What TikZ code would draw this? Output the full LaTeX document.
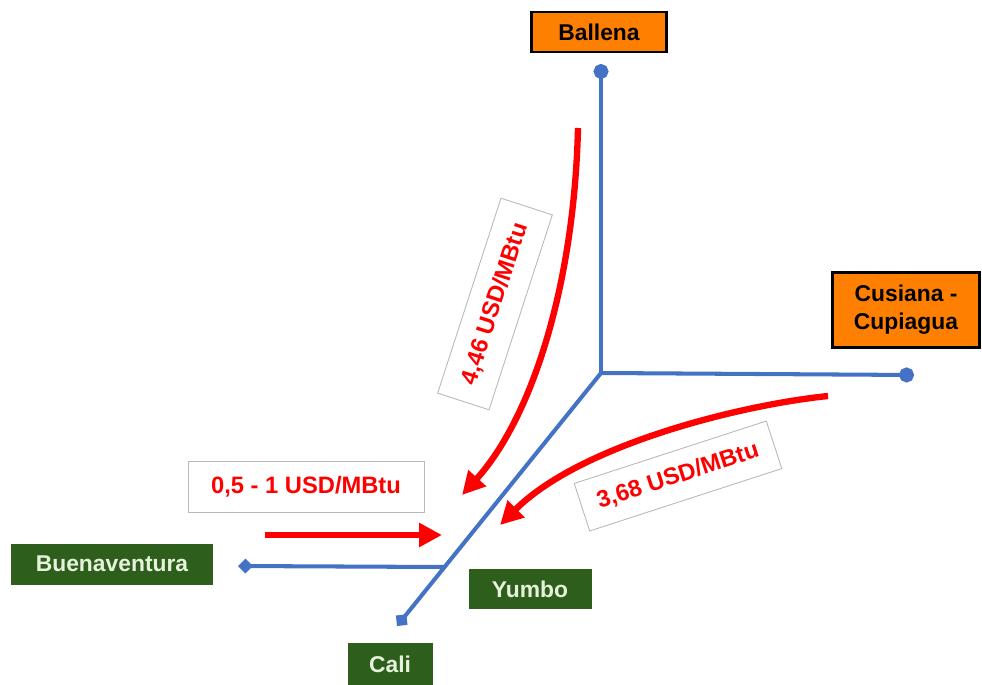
\documentclass[tikz,border=0pt]{standalone}
\usepackage{fontspec}
\setmainfont{Liberation Sans}
\usetikzlibrary{arrows.meta}
\definecolor{pipeblue}{HTML}{4472C4}
\definecolor{fieldorange}{HTML}{FF8000}
\definecolor{citygreen}{HTML}{2E5E1C}
\definecolor{citytext}{HTML}{E6F2DC}
\definecolor{pricered}{HTML}{FF0000}
\tikzset{
	pipe/.style={draw=pipeblue, line width=2.3pt},
	pipedot/.style={pipe, -{Circle[length=8.5pt,width=8.5pt]}},
	pipediamond/.style={pipe, -{Diamond[length=8.5pt,width=8.5pt]}},
	field/.style={draw=black, line width=1.6pt, fill=fieldorange, align=center,
		inner sep=0pt, font=\bfseries\fontsize{13}{16}\selectfont},
	city/.style={fill=citygreen, text=citytext, inner sep=0pt,
		font=\bfseries\fontsize{13}{16}\selectfont},
	price/.style={draw=gray!55, line width=0.5pt, fill=white, text=pricered,
		inner sep=0pt, font=\bfseries\fontsize{13.5}{16}\selectfont},
	flow/.style={draw=pricered, line width=3.6pt,
		-{Triangle[length=13pt,width=13pt]}},
}
\begin{document}
\begin{tikzpicture}[x=0.02cm, y=-0.02cm]
	\useasboundingbox (0,0) rectangle (982,685);
	% pipeline
	\coordinate (hub) at (601,373);
	\coordinate (ballenaend) at (601,64);
	\coordinate (cusianaend) at (914,375);
	\coordinate (caliend) at (397,626);
	\coordinate (yumbo) at (444,567);
	\coordinate (buenaend) at (238,566);
	\draw[pipedot] (hub)--(ballenaend);
	\draw[pipedot] (hub)--(cusianaend);
	\draw[pipediamond] (hub)--(caliend);
	\draw[pipediamond] (yumbo)--(buenaend);
	% fields and cities
	\node[field, minimum width=2.7cm, minimum height=0.8cm] (ballena) at (599,32) {Ballena};
	\node[field, minimum width=2.94cm, minimum height=1.5cm] (cusiana) at (906,310) {Cusiana -\\Cupiagua};
	\node[city, minimum width=4.04cm, minimum height=0.82cm] (buenaventura) at (112,564) {Buenaventura};
	\node[city, minimum width=2.46cm, minimum height=0.8cm] (yumbolabel) at (530,589) {Yumbo};
	\node[city, minimum width=1.7cm, minimum height=0.84cm] (cali) at (390,664) {Cali};
	% prices
	\coordinate (fromballena) at (578,128);
	\coordinate (toballena) at (462,495);
	\coordinate (fromcusiana) at (828,396);
	\coordinate (tocusiana) at (500,525);
	\coordinate (frombuena) at (265,535);
	\coordinate (tobuena) at (442,535);
	\draw[flow] (fromballena) .. controls (574,290) and (530,420) .. (toballena);
	\draw[flow] (fromcusiana) .. controls (740,405) and (580,445) .. (tocusiana);
	\draw[flow] (frombuena)--(tobuena);
	\node[price, rotate=72, minimum width=4.1cm, minimum height=1.08cm] (priceballena) at (495,304) {4,46 USD/MBtu};
	\node[price, rotate=18, minimum width=4.04cm, minimum height=1.0cm] (pricecusiana) at (678,476) {3,68 USD/MBtu};
	\node[price, minimum width=4.72cm, minimum height=1.02cm] (pricebuena) at (306,487) {0,5 - 1 USD/MBtu};
\end{tikzpicture}
\end{document}
